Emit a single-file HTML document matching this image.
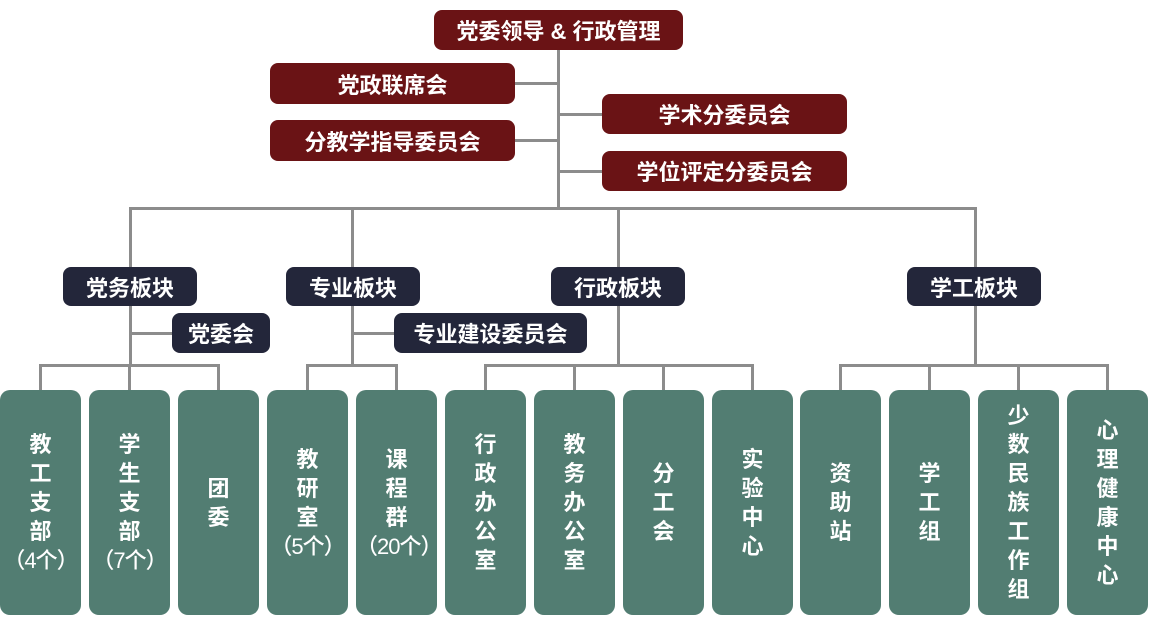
<!DOCTYPE html>
<html><head><meta charset="utf-8"><style>
body{margin:0;width:1150px;height:627px;background:#fff;position:relative;overflow:hidden;font-family:"Liberation Sans","Noto Sans CJK SC",sans-serif;}
.b{position:absolute;color:#fff;display:flex;align-items:center;justify-content:center;border-radius:8px;font-weight:700;font-size:22px;box-sizing:border-box;}
.r{background:#6a1315;}
.n{background:#23263a;}
.g{background:#527d72;border-radius:10px;font-weight:700;font-size:22px;line-height:29px;text-align:center;top:390px;height:225px;width:81px;}
.g>div{width:100%;text-align:center}
.p{letter-spacing:-1px;white-space:nowrap;font-weight:500}
.l{position:absolute;background:#8c8c8c;}
</style></head><body>
<div class="l" style="left:557px;top:50px;width:3px;height:160px"></div>
<div class="l" style="left:515px;top:82px;width:44px;height:3px"></div>
<div class="l" style="left:515px;top:139px;width:44px;height:3px"></div>
<div class="l" style="left:558px;top:113px;width:44px;height:3px"></div>
<div class="l" style="left:558px;top:170px;width:44px;height:3px"></div>
<div class="l" style="left:129px;top:207px;width:848px;height:3px"></div>
<div class="l" style="left:129px;top:207px;width:3px;height:60px"></div>
<div class="l" style="left:351px;top:207px;width:3px;height:60px"></div>
<div class="l" style="left:617px;top:207px;width:3px;height:60px"></div>
<div class="l" style="left:974px;top:207px;width:3px;height:60px"></div>
<div class="l" style="left:129px;top:306px;width:3px;height:60px"></div>
<div class="l" style="left:130px;top:332px;width:42px;height:3px"></div>
<div class="l" style="left:39px;top:364px;width:181px;height:3px"></div>
<div class="l" style="left:39px;top:364px;width:3px;height:27px"></div>
<div class="l" style="left:128px;top:364px;width:3px;height:27px"></div>
<div class="l" style="left:217px;top:364px;width:3px;height:27px"></div>
<div class="l" style="left:351px;top:306px;width:3px;height:60px"></div>
<div class="l" style="left:352px;top:332px;width:42px;height:3px"></div>
<div class="l" style="left:306px;top:364px;width:92px;height:3px"></div>
<div class="l" style="left:306px;top:364px;width:3px;height:27px"></div>
<div class="l" style="left:395px;top:364px;width:3px;height:27px"></div>
<div class="l" style="left:617px;top:306px;width:3px;height:60px"></div>
<div class="l" style="left:484px;top:364px;width:270px;height:3px"></div>
<div class="l" style="left:484px;top:364px;width:3px;height:27px"></div>
<div class="l" style="left:573px;top:364px;width:3px;height:27px"></div>
<div class="l" style="left:662px;top:364px;width:3px;height:27px"></div>
<div class="l" style="left:751px;top:364px;width:3px;height:27px"></div>
<div class="l" style="left:974px;top:306px;width:3px;height:60px"></div>
<div class="l" style="left:839px;top:364px;width:270px;height:3px"></div>
<div class="l" style="left:839px;top:364px;width:3px;height:27px"></div>
<div class="l" style="left:928px;top:364px;width:3px;height:27px"></div>
<div class="l" style="left:1017px;top:364px;width:3px;height:27px"></div>
<div class="l" style="left:1106px;top:364px;width:3px;height:27px"></div>

<div class="b r" style="left:434px;top:10px;width:249px;height:40px">党委领导 &amp; 行政管理</div>
<div class="b r" style="left:270px;top:63px;width:245px;height:41px">党政联席会</div>
<div class="b r" style="left:270px;top:120px;width:245px;height:41px">分教学指导委员会</div>
<div class="b r" style="left:602px;top:94px;width:245px;height:40px">学术分委员会</div>
<div class="b r" style="left:602px;top:151px;width:245px;height:40px">学位评定分委员会</div>

<div class="b n" style="left:63px;top:267px;width:134px;height:39px">党务板块</div>
<div class="b n" style="left:286px;top:267px;width:134px;height:39px">专业板块</div>
<div class="b n" style="left:551px;top:267px;width:134px;height:39px">行政板块</div>
<div class="b n" style="left:907px;top:267px;width:134px;height:39px">学工板块</div>
<div class="b n" style="left:172px;top:313px;width:98px;height:40px">党委会</div>
<div class="b n" style="left:394px;top:313px;width:193px;height:40px">专业建设委员会</div>

<div class="b g" style="left:0px"><div>教<br>工<br>支<br>部<br><span class="p">（4个）</span></div></div>
<div class="b g" style="left:89px"><div>学<br>生<br>支<br>部<br><span class="p">（7个）</span></div></div>
<div class="b g" style="left:178px"><div>团<br>委</div></div>
<div class="b g" style="left:267px"><div>教<br>研<br>室<br><span class="p">（5个）</span></div></div>
<div class="b g" style="left:356px"><div>课<br>程<br>群<br><span class="p">（20个）</span></div></div>
<div class="b g" style="left:445px"><div>行<br>政<br>办<br>公<br>室</div></div>
<div class="b g" style="left:534px"><div>教<br>务<br>办<br>公<br>室</div></div>
<div class="b g" style="left:623px"><div>分<br>工<br>会</div></div>
<div class="b g" style="left:712px"><div>实<br>验<br>中<br>心</div></div>
<div class="b g" style="left:800px"><div>资<br>助<br>站</div></div>
<div class="b g" style="left:889px"><div>学<br>工<br>组</div></div>
<div class="b g" style="left:978px"><div>少<br>数<br>民<br>族<br>工<br>作<br>组</div></div>
<div class="b g" style="left:1067px"><div>心<br>理<br>健<br>康<br>中<br>心</div></div>
</body></html>
